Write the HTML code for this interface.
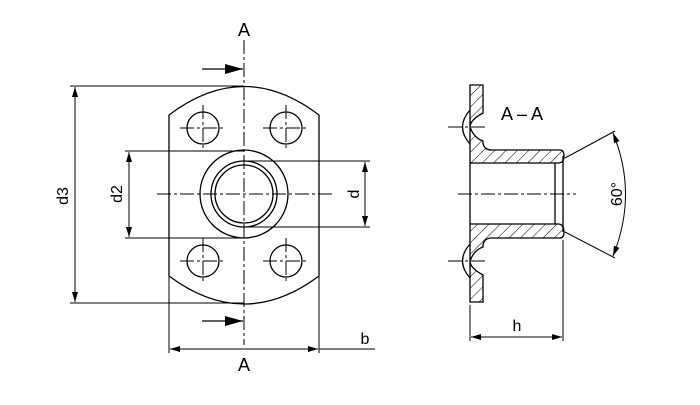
<!DOCTYPE html>
<html><head><style>html,body{margin:0;background:#fff}</style></head><body>
<svg width="700" height="400" viewBox="0 0 700 400" xmlns="http://www.w3.org/2000/svg" font-family="Liberation Sans, DejaVu Sans, sans-serif">
<defs>
<marker id="ar" viewBox="0 0 10 6" refX="10" refY="3" markerWidth="10" markerHeight="6" orient="auto-start-reverse" markerUnits="userSpaceOnUse"><path d="M0,0L10,3L0,6z" fill="#000"/></marker>
<marker id="ab" viewBox="0 0 18 10" refX="18" refY="5" markerWidth="18" markerHeight="10" orient="auto" markerUnits="userSpaceOnUse"><path d="M0,0L18,5L0,10z" fill="#000"/></marker>
<pattern id="h" width="8" height="8" patternUnits="userSpaceOnUse" patternTransform="rotate(45)"><line x1="0" y1="0" x2="0" y2="8" stroke="#000" stroke-width="1"/></pattern>
</defs>
<g stroke="#000" stroke-width="1.3" fill="none">
<path d="M169,115 Q244,58 319,115 L319,276 Q244,332 169,276 Z"/>
<circle cx="203" cy="128" r="16"/><circle cx="286" cy="128" r="16"/>
<circle cx="203" cy="261" r="16"/><circle cx="286" cy="261" r="16"/>
<circle cx="244" cy="194" r="44"/><circle cx="244" cy="194" r="33"/><circle cx="244" cy="194" r="29"/>
</g>
<g stroke="#000" stroke-width="1" fill="none" stroke-dasharray="14,3,3,3">
<line x1="244" y1="40" x2="244" y2="345"/>
<line x1="157" y1="194" x2="333" y2="194"/>
<line x1="180" y1="128" x2="226" y2="128"/><line x1="203" y1="105" x2="203" y2="151"/>
<line x1="263" y1="128" x2="309" y2="128"/><line x1="286" y1="105" x2="286" y2="151"/>
<line x1="180" y1="261" x2="226" y2="261"/><line x1="203" y1="238" x2="203" y2="284"/>
<line x1="263" y1="261" x2="309" y2="261"/><line x1="286" y1="238" x2="286" y2="284"/>
<line x1="458" y1="194" x2="576" y2="194"/>
<line x1="448" y1="127" x2="486" y2="127"/><line x1="448" y1="261" x2="486" y2="261"/>
</g>
<g stroke="#000" stroke-width="1" fill="none">
<line x1="70" y1="86" x2="244" y2="86"/><line x1="70" y1="303" x2="244" y2="303"/>
<line x1="75" y1="87" x2="75" y2="302" marker-start="url(#ar)" marker-end="url(#ar)"/>
<line x1="125" y1="151" x2="244" y2="151"/><line x1="125" y1="238" x2="244" y2="238"/>
<line x1="129" y1="152" x2="129" y2="237" marker-start="url(#ar)" marker-end="url(#ar)"/>
<line x1="244" y1="161" x2="370" y2="161"/><line x1="244" y1="227" x2="370" y2="227"/>
<line x1="365" y1="162" x2="365" y2="226" marker-start="url(#ar)" marker-end="url(#ar)"/>
<line x1="202" y1="69" x2="243" y2="69" stroke-width="1.3" marker-end="url(#ab)"/>
<line x1="202" y1="321" x2="243" y2="321" stroke-width="1.3" marker-end="url(#ab)"/>
<line x1="169" y1="276" x2="169" y2="353"/><line x1="319" y1="276" x2="319" y2="353"/>
<line x1="170" y1="349" x2="318" y2="349" marker-start="url(#ar)" marker-end="url(#ar)"/>
<line x1="319" y1="349" x2="375" y2="349"/>
<line x1="470" y1="305" x2="470" y2="341"/><line x1="563" y1="240" x2="563" y2="341"/>
<line x1="471" y1="337" x2="562" y2="337" marker-start="url(#ar)" marker-end="url(#ar)"/>
<line x1="565" y1="158" x2="615" y2="131"/><line x1="565" y1="232" x2="615" y2="258"/>
<path d="M613,133 Q638,194 613,256" marker-start="url(#ar)" marker-end="url(#ar)"/>
</g>
<g stroke="#000" stroke-width="1.3">
<path d="M470,85 L483,85 L483,113 Q470,120 470,127 Q474,138 483,141 L483,143 Q484,150 492,150 L560,150 Q564,150 564,156 Q564,163 558,163 L476,163 L470,163 Z" fill="url(#h)"/>
<path d="M470,302 L483,302 L483,275 Q470,268 470,261 Q474,250 483,247 L483,245 Q484,238 492,238 L560,238 Q564,238 564,232 Q564,224 558,224 L476,224 L470,224 Z" fill="url(#h)"/>
<path d="M470,110 Q455,127 470,144" fill="none"/><path d="M470,244 Q455,261 470,278" fill="none"/>
<line x1="470" y1="163" x2="470" y2="224"/><line x1="555" y1="163" x2="555" y2="224"/><line x1="563" y1="156" x2="563" y2="232"/>
</g>
<g font-size="18" fill="#000" text-anchor="middle">
<text x="244" y="36">A</text>
<text x="244" y="371">A</text>
<text x="522" y="120">A – A</text>
<text x="517" y="331" font-size="16">h</text>
<text x="365" y="344" font-size="16">b</text>
<text transform="translate(68,196) rotate(-90)" font-size="16">d3</text>
<text transform="translate(122,194) rotate(-90)" font-size="16">d2</text>
<text transform="translate(359,194) rotate(-90)" font-size="16">d</text>
<text transform="translate(622,194) rotate(-90)" font-size="16">60°</text>
</g>
</svg>
</body></html>
